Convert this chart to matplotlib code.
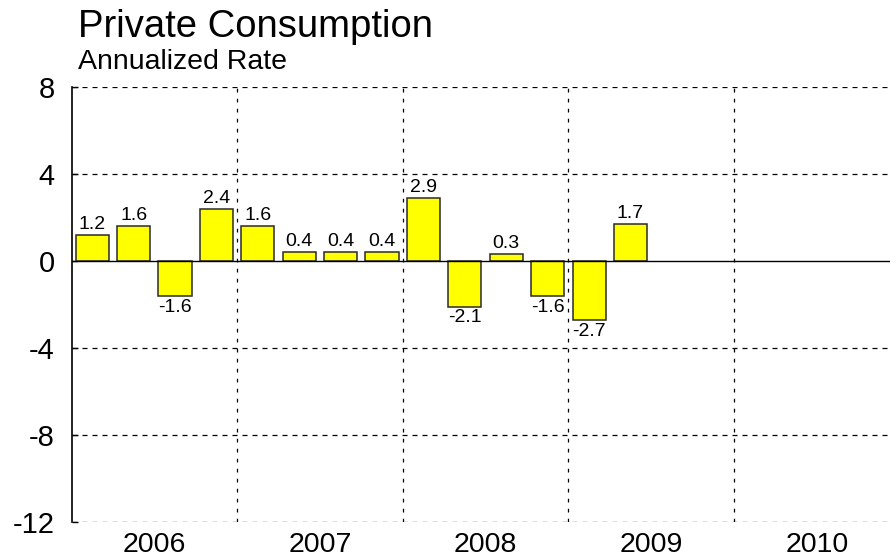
import matplotlib.pyplot as plt

plt.rcParams['font.family'] = ['Liberation Sans', 'DejaVu Sans']

# quarterly private consumption, annualized rate
values = [1.2, 1.6, -1.6, 2.4, 1.6, 0.4, 0.4, 0.4, 2.9, -2.1, 0.3, -1.6, -2.7, 1.7]
years = [2006, 2007, 2008, 2009, 2010]
yticks = [8, 4, 0, -4, -8, -12]

fig = plt.figure(figsize=(8.9, 5.6), dpi=100)
W, H = 890, 560
ax = fig.add_axes([71.5 / W, 1 - 522 / H, (899.6 - 71.5) / W, (522 - 87) / H])

x = [years[0] + (i + 0.5) / 4 for i in range(len(values))]
ax.bar(x, values, width=0.2, color='#ffff00', edgecolor='#2a2a2a', linewidth=1.1, zorder=3)

for xi, v in zip(x, values):
    if v >= 0:
        ax.annotate(f"{v:.1f}", (xi, v), xytext=(0, 1.5), textcoords='offset points',
                    ha='center', va='bottom', fontsize=14)
    else:
        ax.annotate(f"{v:.1f}", (xi, v), xytext=(0, -2), textcoords='offset points',
                    ha='center', va='top', fontsize=14)

ax.set_xlim(years[0], years[-1] + 1)
ax.set_ylim(-12, 8)

# grid lines
for y in [8, 4, -4, -8, -12]:
    ax.axhline(y, color='black', lw=0.9, ls=(0, (4, 4)), zorder=1)
for yr in years[1:]:
    ax.axvline(yr, color='black', lw=0.9, ls=(0, (3, 5)), zorder=1)
ax.axhline(0, color='black', lw=1.0, zorder=4)

for s in ['top', 'right', 'bottom']:
    ax.spines[s].set_visible(False)
ax.spines['left'].set_linewidth(1.2)

ax.set_yticks(yticks)
ax.set_yticklabels([str(t) for t in yticks], fontsize=21)
ax.tick_params(axis='y', direction='in', length=4, width=1, pad=12)

ax.set_xticks([yr + 0.5 for yr in years])
ax.set_xticklabels([str(yr) for yr in years], fontsize=20.5)
ax.tick_params(axis='x', length=0, pad=7)

fig.text(78 / W, 1 - 37 / H, "Private Consumption", fontsize=27.5, ha='left', va='baseline')
fig.text(78 / W, 1 - 69 / H, "Annualized Rate", fontsize=20.5, ha='left', va='baseline')

fig.savefig("out.png", dpi=100)
